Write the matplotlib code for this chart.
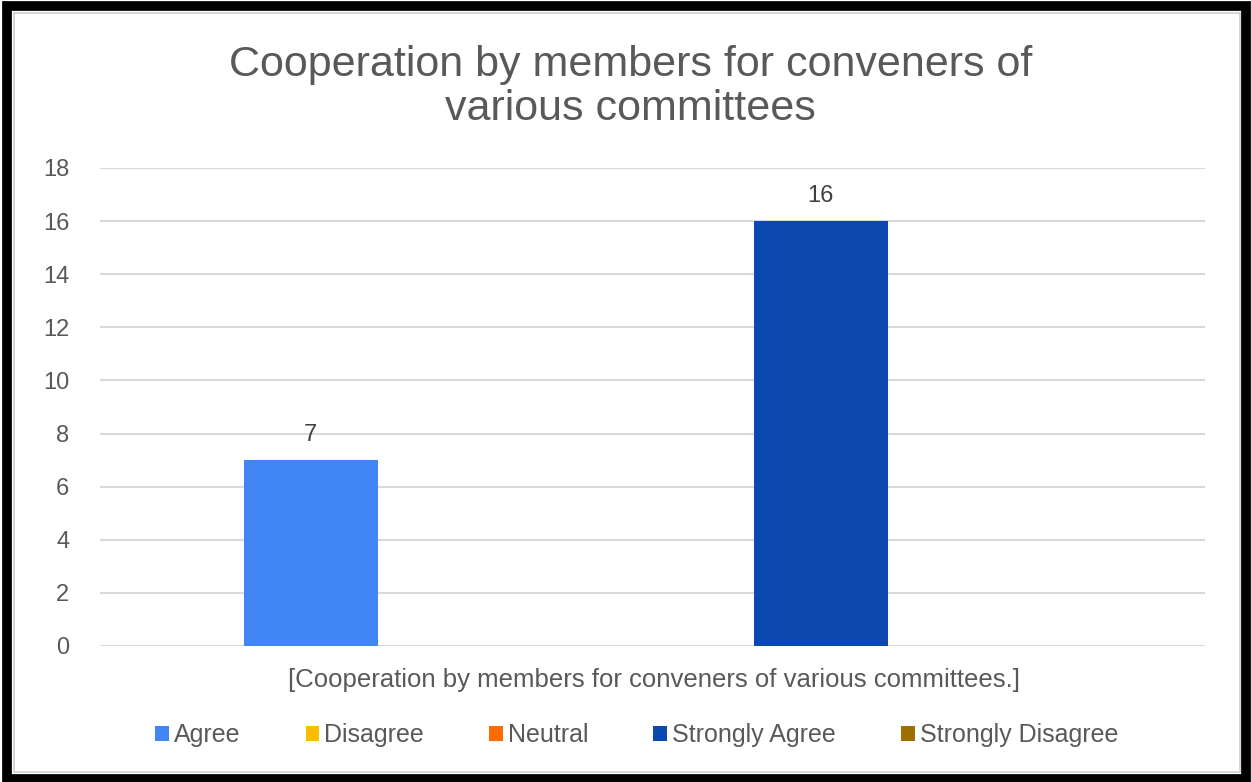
import matplotlib.pyplot as plt
from matplotlib.patches import Rectangle, Patch
import numpy as np

plt.rcParams['font.family'] = ['Liberation Sans', 'DejaVu Sans']

# data
series = ["Agree", "Disagree", "Neutral", "Strongly Agree", "Strongly Disagree"]
values = [7, 0, 0, 16, 0]
colors = ["#4285F4", "#FBBC04", "#FF6D01", "#0B49B0", "#9C6F00"]
yticks = [0, 2, 4, 6, 8, 10, 12, 14, 16, 18]
title = "Cooperation by members for conveners of\nvarious committees"
xlabel = "[Cooperation by members for conveners of various committees.]"

text_col = "#595959"

fig = plt.figure(figsize=(12.51, 7.82), dpi=100)
fig.patch.set_facecolor("white")

# frame round the whole picture
W, H = 1251, 782
fig.patches.append(Rectangle((7 / W, 3 / H), 1239 / W, 773 / H, transform=fig.transFigure,
                             facecolor="none", edgecolor="black", linewidth=7, zorder=5))
fig.patches.append(Rectangle((14 / W, 10 / H), 1226 / W, 759 / H, transform=fig.transFigure,
                             facecolor="none", edgecolor="#D0D0D0", linewidth=1.2, zorder=5))

ax = fig.add_axes([100 / W, 1 - 646 / H, 1105 / W, (646 - 168) / H])

x = np.arange(len(series))
bars = ax.bar(x, values, width=0.79, color=colors, zorder=3)

for xi, v in zip(x, values):
    if v > 0:
        ax.text(xi, v + 0.55, str(v), ha="center", va="bottom", fontsize=17, color="#404040")

ax.set_xlim(-1.24, 5.26)
ax.set_ylim(0, 18)
ax.set_yticks(yticks)
ax.set_xticks([])
ax.tick_params(axis="y", length=0, pad=22, labelsize=17, labelcolor=text_col)
ax.grid(axis="y", color="#D9D9D9", linewidth=1.5, zorder=0)
for s in ax.spines.values():
    s.set_visible(False)

fig.text(0.504, 1 - 87 / H, title, ha="center", va="center", fontsize=31,
         color=text_col, linespacing=1.1)
fig.text(0.523, 1 - 680 / H, xlabel, ha="center", va="center", fontsize=18.5, color=text_col)

handles = [Patch(facecolor=c, edgecolor="none") for c in colors]
leg = fig.legend(handles, series, loc="center", bbox_to_anchor=(0.509, 1 - 735 / H),
                 ncol=5, frameon=False, fontsize=18, handlelength=0.55, handleheight=0.55,
                 handletextpad=0.2, columnspacing=2.6, labelcolor=text_col)

fig.savefig("out.png", dpi=100)
